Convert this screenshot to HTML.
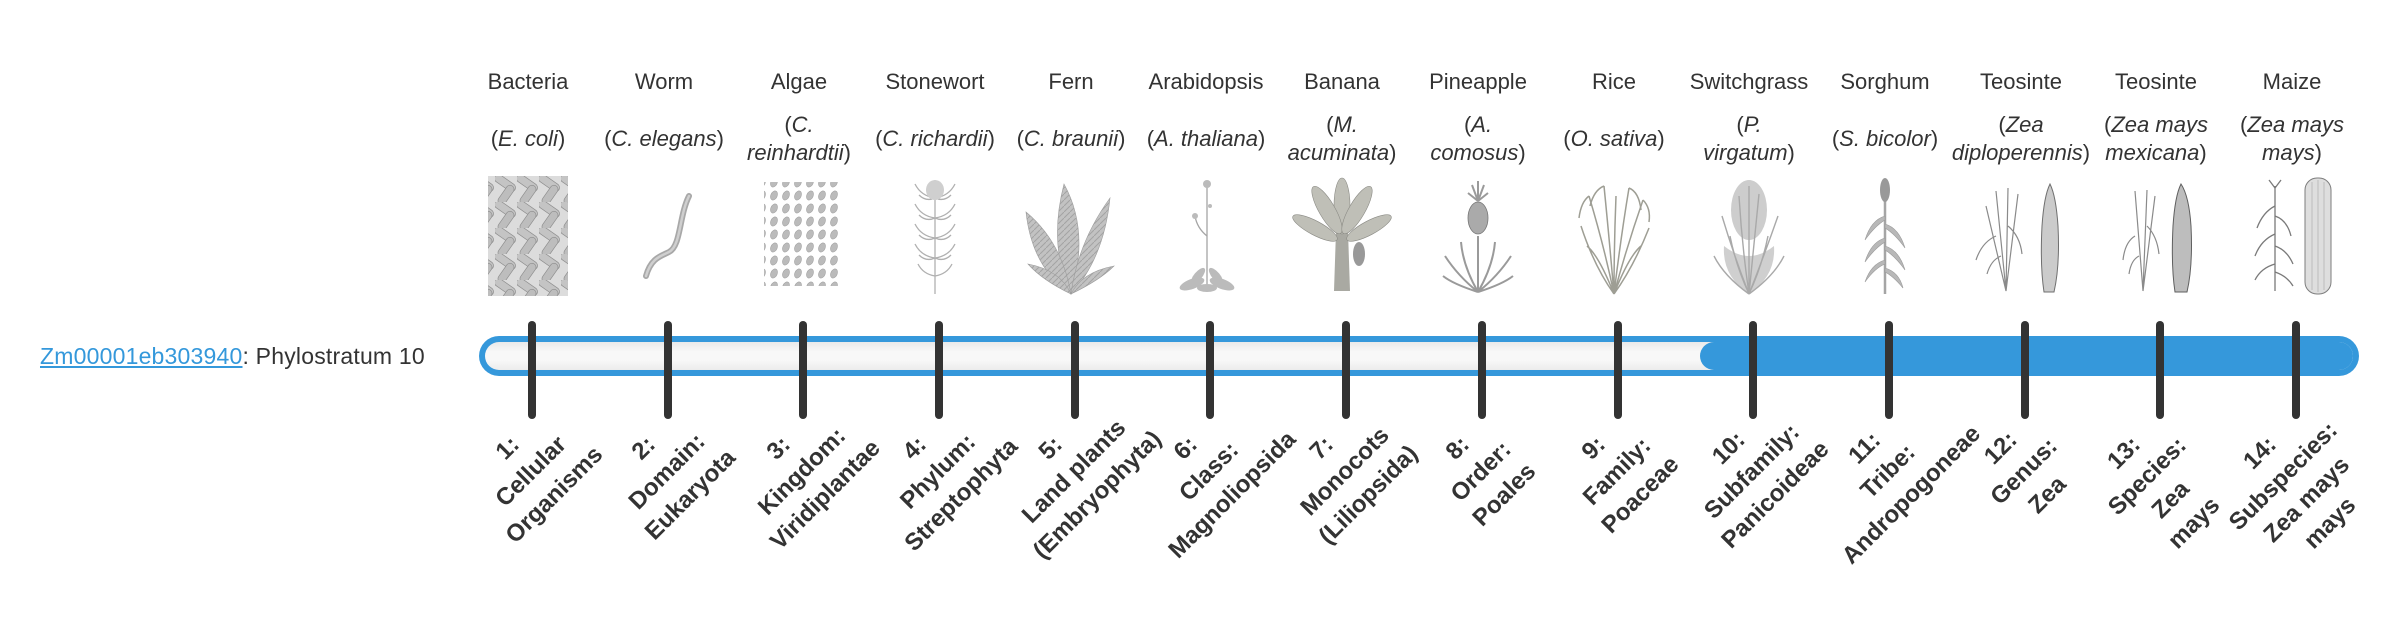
<!DOCTYPE html>
<html><head><meta charset="utf-8">
<style>
html,body{margin:0;padding:0;background:#fff;}
body{width:2400px;height:580px;position:relative;overflow:hidden;font-family:"Liberation Sans",Arial,sans-serif;color:#333;}
.cn{position:absolute;top:68px;width:136px;text-align:center;font-size:22px;line-height:28px;white-space:nowrap;}
.sn{position:absolute;top:111px;width:136px;height:56px;display:flex;align-items:center;justify-content:center;text-align:center;font-size:22px;line-height:28px;white-space:nowrap;}
.im{position:absolute;top:176px;width:110px;height:120px;}
.tk{position:absolute;top:321px;width:8px;height:98px;background:#333;border-radius:4px;}
.lb{position:absolute;top:422px;width:260px;text-align:center;font-weight:bold;font-size:24px;line-height:33px;white-space:nowrap;transform:rotate(-45deg);transform-origin:50% 50%;color:#333;}
a{color:#3498db;text-decoration:underline;}
</style></head><body>

<div style="position:absolute;left:40px;top:341px;font-size:23px;line-height:30px;letter-spacing:0.2px;white-space:nowrap;"><a>Zm00001eb303940</a>: Phylostratum 10</div>

<!-- bar -->
<div style="position:absolute;left:479px;top:336px;width:1880px;height:40px;border-radius:20px;background:#3598db;"></div>
<div style="position:absolute;left:485px;top:342px;width:1868px;height:28px;border-radius:14px;background:linear-gradient(#e9e9e9,#f8f8f8 35%,#f8f8f8 65%,#ececec);"></div>
<div style="position:absolute;left:1700px;top:342px;width:653px;height:28px;border-radius:14px;background:#3598db;"></div>

<!-- common names -->
<div class="cn" style="left:460px">Bacteria</div>
<div class="cn" style="left:596px">Worm</div>
<div class="cn" style="left:731px">Algae</div>
<div class="cn" style="left:867px">Stonewort</div>
<div class="cn" style="left:1003px">Fern</div>
<div class="cn" style="left:1138px">Arabidopsis</div>
<div class="cn" style="left:1274px">Banana</div>
<div class="cn" style="left:1410px">Pineapple</div>
<div class="cn" style="left:1546px">Rice</div>
<div class="cn" style="left:1681px">Switchgrass</div>
<div class="cn" style="left:1817px">Sorghum</div>
<div class="cn" style="left:1953px">Teosinte</div>
<div class="cn" style="left:2088px">Teosinte</div>
<div class="cn" style="left:2224px">Maize</div>

<!-- scientific names -->
<div class="sn" style="left:460px"><span>(<i>E. coli</i>)</span></div>
<div class="sn" style="left:596px"><span>(<i>C. elegans</i>)</span></div>
<div class="sn" style="left:731px"><span>(<i>C.</i><br><i>reinhardtii</i>)</span></div>
<div class="sn" style="left:867px"><span>(<i>C. richardii</i>)</span></div>
<div class="sn" style="left:1003px"><span>(<i>C. braunii</i>)</span></div>
<div class="sn" style="left:1138px"><span>(<i>A. thaliana</i>)</span></div>
<div class="sn" style="left:1274px"><span>(<i>M.</i><br><i>acuminata</i>)</span></div>
<div class="sn" style="left:1410px"><span>(<i>A.</i><br><i>comosus</i>)</span></div>
<div class="sn" style="left:1546px"><span>(<i>O. sativa</i>)</span></div>
<div class="sn" style="left:1681px"><span>(<i>P.</i><br><i>virgatum</i>)</span></div>
<div class="sn" style="left:1817px"><span>(<i>S. bicolor</i>)</span></div>
<div class="sn" style="left:1953px"><span>(<i>Zea</i><br><i>diploperennis</i>)</span></div>
<div class="sn" style="left:2088px"><span>(<i>Zea mays</i><br><i>mexicana</i>)</span></div>
<div class="sn" style="left:2224px"><span>(<i>Zea mays</i><br><i>mays</i>)</span></div>

<!-- images -->
<svg class="im" style="left:473px" viewBox="0 0 110 120">
<defs><pattern id="rod" width="22" height="26" patternUnits="userSpaceOnUse">
<rect x="-2" y="3" width="24" height="8" rx="4" fill="#c4c4c4" stroke="#8e8e8e" stroke-width="0.7" transform="rotate(35 10 7)"/>
<rect x="0" y="15" width="22" height="8" rx="4" fill="#bdbdbd" stroke="#8e8e8e" stroke-width="0.7" transform="rotate(-55 11 19)"/>
</pattern></defs>
<rect x="15" y="0" width="80" height="120" fill="#dcdcdc"/>
<rect x="15" y="0" width="80" height="120" fill="url(#rod)"/>
</svg>
<svg class="im" style="left:609px" viewBox="0 0 110 120">
<path d="M37 100 C42 82 52 80 60 76 C72 70 70 40 80 20" fill="none" stroke="#a8a8a8" stroke-width="6" stroke-linecap="round"/>
<path d="M37 100 C42 82 52 80 60 76 C72 70 70 40 80 20" fill="none" stroke="#cfcfcf" stroke-width="2.5" stroke-linecap="round"/>
</svg>
<svg class="im" style="left:744px" viewBox="0 0 110 120">
<defs><pattern id="alg" width="12" height="13" patternUnits="userSpaceOnUse">
<ellipse cx="6" cy="6.5" rx="3.2" ry="4.8" transform="rotate(25 6 6.5)" fill="#bbb" stroke="#999" stroke-width="0.5"/>
</pattern></defs>
<rect x="20" y="6" width="74" height="104" fill="url(#alg)"/>
</svg>
<svg class="im" style="left:880px" viewBox="0 0 110 120">
<g fill="none" stroke="#b0b0b0" stroke-width="1.3">
<line x1="55" y1="4" x2="55" y2="118"/>
<path d="M55 22q-14-2-20-14M55 22q14-2 20-14M55 22q-9 4-16-3M55 22q9 4 16-3"/>
<path d="M55 42q-14-2-20-14M55 42q14-2 20-14M55 42q-9 4-16-3M55 42q9 4 16-3"/>
<path d="M55 62q-14-2-20-14M55 62q14-2 20-14M55 62q-9 4-16-3M55 62q9 4 16-3"/>
<path d="M55 82q-14-2-20-14M55 82q14-2 20-14M55 82q-9 4-16-3M55 82q9 4 16-3"/>
<path d="M55 100q-12-2-17-12M55 100q12-2 17-12"/>
</g>
<ellipse cx="55" cy="14" rx="9" ry="10" fill="#cfcfcf"/>
</svg>
<svg class="im" style="left:1016px" viewBox="0 0 110 120">
<defs><pattern id="lf" width="6" height="6" patternUnits="userSpaceOnUse"><rect width="6" height="6" fill="#c2c2c2"/><path d="M0 6L6 0" stroke="#a3a3a3" stroke-width="1"/></pattern></defs>
<g fill="url(#lf)" stroke="#9c9c9c" stroke-width="0.6">
<path d="M55 118 Q32 70 48 8 Q74 55 55 118Z"/>
<path d="M55 118 Q16 92 10 36 Q46 66 55 118Z"/>
<path d="M55 118 Q88 82 94 22 Q62 66 55 118Z"/>
<path d="M55 118 Q26 104 12 88 Q44 94 55 118Z"/>
<path d="M55 118 Q84 104 98 90 Q66 96 55 118Z"/>
</g>
</svg>
<svg class="im" style="left:1152px" viewBox="0 0 110 120">
<g fill="none" stroke="#a5a5a5" stroke-width="1.3">
<line x1="55" y1="10" x2="55" y2="110"/><path d="M55 60 q-10-8-12-20"/>
</g>
<g fill="#bbb"><circle cx="55" cy="8" r="4"/><circle cx="43" cy="40" r="3"/><circle cx="58" cy="30" r="2"/>
<ellipse cx="40" cy="108" rx="13" ry="5" transform="rotate(-20 40 108)"/><ellipse cx="70" cy="108" rx="13" ry="5" transform="rotate(20 70 108)"/>
<ellipse cx="46" cy="100" rx="10" ry="4" transform="rotate(-50 46 100)"/><ellipse cx="64" cy="100" rx="10" ry="4" transform="rotate(50 64 100)"/>
<ellipse cx="55" cy="112" rx="10" ry="4"/></g>
</svg>
<svg class="im" style="left:1287px" viewBox="0 0 110 120">
<path d="M49 55 L61 55 L63 115 L47 115Z" fill="#a9a9a2"/>
<g fill="#bfbfb7" stroke="#8a8a84" stroke-width="0.6">
<ellipse cx="55" cy="30" rx="8" ry="28"/>
<ellipse cx="40" cy="34" rx="8" ry="27" transform="rotate(-30 40 34)"/>
<ellipse cx="70" cy="34" rx="8" ry="27" transform="rotate(30 70 34)"/>
<ellipse cx="28" cy="52" rx="7" ry="25" transform="rotate(-62 28 52)"/>
<ellipse cx="82" cy="52" rx="7" ry="25" transform="rotate(62 82 52)"/>
</g>
<ellipse cx="72" cy="78" rx="6" ry="12" fill="#999"/>
</svg>
<svg class="im" style="left:1423px" viewBox="0 0 110 120">
<g fill="none" stroke="#9a9a9a" stroke-width="2">
<path d="M55 116 Q35 100 22 80M55 116 Q75 100 88 80M55 116 Q40 90 38 66M55 116 Q70 90 72 66M55 116 Q30 108 20 100M55 116 Q80 108 90 100M55 116 V60"/>
<path d="M55 25 l-6-16M55 25 l0-20M55 25 l6-16M55 25 l-10-8M55 25 l10-8"/>
</g>
<ellipse cx="55" cy="42" rx="10" ry="16" fill="#aaa" stroke="#777" stroke-width="0.8"/>
</svg>
<svg class="im" style="left:1559px" viewBox="0 0 110 120">
<g fill="none" stroke="#9e9e94" stroke-width="1.5">
<path d="M55 118 Q45 70 30 20M55 118 Q50 60 45 10M55 118 Q62 60 70 12M55 118 Q68 70 84 24M55 118 Q35 90 22 50M55 118 Q75 90 90 52M55 118 Q55 70 57 20M55 118 Q40 80 28 70M55 118 Q70 80 82 70"/>
<path d="M30 20 q-8 6-10 22M45 10 q-10 4-14 20M70 12 q10 4 12 22M84 24 q8 8 6 22"/>
</g>
</svg>
<svg class="im" style="left:1694px" viewBox="0 0 110 120">
<ellipse cx="55" cy="34" rx="18" ry="30" fill="#cdcdcd"/>
<path d="M55 118 Q28 100 30 70 Q55 90 80 70 Q82 100 55 118Z" fill="#cfcfcf"/>
<g fill="none" stroke="#a9a9a9" stroke-width="1.4">
<path d="M55 118 Q40 80 28 40M55 118 Q48 70 45 20M55 118 Q60 70 65 18M55 118 Q70 80 84 40M55 118 Q30 100 20 80M55 118 Q80 100 90 80M55 118 V10M55 118 Q42 90 36 60M55 118 Q68 90 74 60"/>
</g>
</svg>
<svg class="im" style="left:1830px" viewBox="0 0 110 120">
<g fill="none" stroke="#a5a5a5" stroke-width="2.5">
<line x1="55" y1="22" x2="55" y2="118"/>
</g>
<g fill="#b8b8b8" stroke="#999" stroke-width="0.6">
<path d="M55 40 q-14 4-20 24 q10-14 20-20Z"/><path d="M55 48 q14 4 20 24 q-10-14-20-20Z"/>
<path d="M55 62 q-14 4-20 24 q10-14 20-20Z"/><path d="M55 70 q14 4 20 24 q-10-14-20-20Z"/>
<path d="M55 84 q-14 4-20 22 q10-14 20-18Z"/><path d="M55 92 q14 4 18 20 q-10-12-18-16Z"/>
</g>
<ellipse cx="55" cy="14" rx="5" ry="12" fill="#999"/>
</svg>
<svg class="im" style="left:1966px" viewBox="0 0 110 120">
<g fill="none" stroke="#8a8a8a" stroke-width="1.2">
<path d="M40 115 L30 15M40 115 L42 12M40 115 L52 18M40 115 L20 30M30 60 q-14 6-20 24M42 50 q12 10 14 28M35 80 q-10 4-14 18"/>
</g>
<path d="M84 8 Q90 20 92 50 Q94 90 88 116 L78 116 Q74 90 76 50 Q78 20 84 8Z" fill="#cbcbcb" stroke="#6f6f6f" stroke-width="1"/>
</svg>
<svg class="im" style="left:2101px" viewBox="0 0 110 120">
<g fill="none" stroke="#8a8a8a" stroke-width="1.2">
<path d="M42 115 L34 15M42 115 L46 14M42 115 L54 20M34 60 q-10 6-12 24M46 50 q10 10 12 28M38 80 q-8 4-10 18"/>
</g>
<path d="M80 8 Q88 20 90 50 Q92 90 86 116 L74 116 Q70 90 72 50 Q74 20 80 8Z" fill="#bdbdbd" stroke="#5f5f5f" stroke-width="1"/>
</svg>
<svg class="im" style="left:2237px" viewBox="0 0 110 120">
<g fill="none" stroke="#7a7a7a" stroke-width="1.3">
<line x1="38" y1="10" x2="38" y2="115"/>
<path d="M38 30 q-12 6-18 22M38 40 q12 4 16 20M38 58 q-14 6-20 22M38 70 q12 4 18 18M38 88 q-14 4-20 16M38 96 q12 4 18 14M38 12 l-6-8M38 12 l6-8"/>
</g>
<rect x="68" y="2" width="26" height="116" rx="12" fill="#dedede" stroke="#7d7d7d" stroke-width="1"/>
<g stroke="#a5a5a5" stroke-width="0.6"><line x1="75" y1="6" x2="75" y2="114"/><line x1="81" y1="4" x2="81" y2="116"/><line x1="87" y1="6" x2="87" y2="114"/></g>
</svg>

<!-- ticks -->
<div class="tk" style="left:528px"></div>
<div class="tk" style="left:664px"></div>
<div class="tk" style="left:799px"></div>
<div class="tk" style="left:935px"></div>
<div class="tk" style="left:1071px"></div>
<div class="tk" style="left:1206px"></div>
<div class="tk" style="left:1342px"></div>
<div class="tk" style="left:1478px"></div>
<div class="tk" style="left:1614px"></div>
<div class="tk" style="left:1749px"></div>
<div class="tk" style="left:1885px"></div>
<div class="tk" style="left:2021px"></div>
<div class="tk" style="left:2156px"></div>
<div class="tk" style="left:2292px"></div>

<!-- labels -->
<div class="lb" style="left:401px">1:<br>Cellular<br>Organisms</div>
<div class="lb" style="left:537px">2:<br>Domain:<br>Eukaryota</div>
<div class="lb" style="left:672px">3:<br>Kingdom:<br>Viridiplantae</div>
<div class="lb" style="left:808px">4:<br>Phylum:<br>Streptophyta</div>
<div class="lb" style="left:944px">5:<br>Land plants<br>(Embryophyta)</div>
<div class="lb" style="left:1079px">6:<br>Class:<br>Magnoliopsida</div>
<div class="lb" style="left:1215px">7:<br>Monocots<br>(Liliopsida)</div>
<div class="lb" style="left:1351px">8:<br>Order:<br>Poales</div>
<div class="lb" style="left:1487px">9:<br>Family:<br>Poaceae</div>
<div class="lb" style="left:1622px">10:<br>Subfamily:<br>Panicoideae</div>
<div class="lb" style="left:1758px">11:<br>Tribe:<br>Andropogoneae</div>
<div class="lb" style="left:1894px">12:<br>Genus:<br>Zea</div>
<div class="lb" style="left:2029px">13:<br>Species:<br>Zea<br>mays</div>
<div class="lb" style="left:2165px">14:<br>Subspecies:<br>Zea mays<br>mays</div>

</body></html>
